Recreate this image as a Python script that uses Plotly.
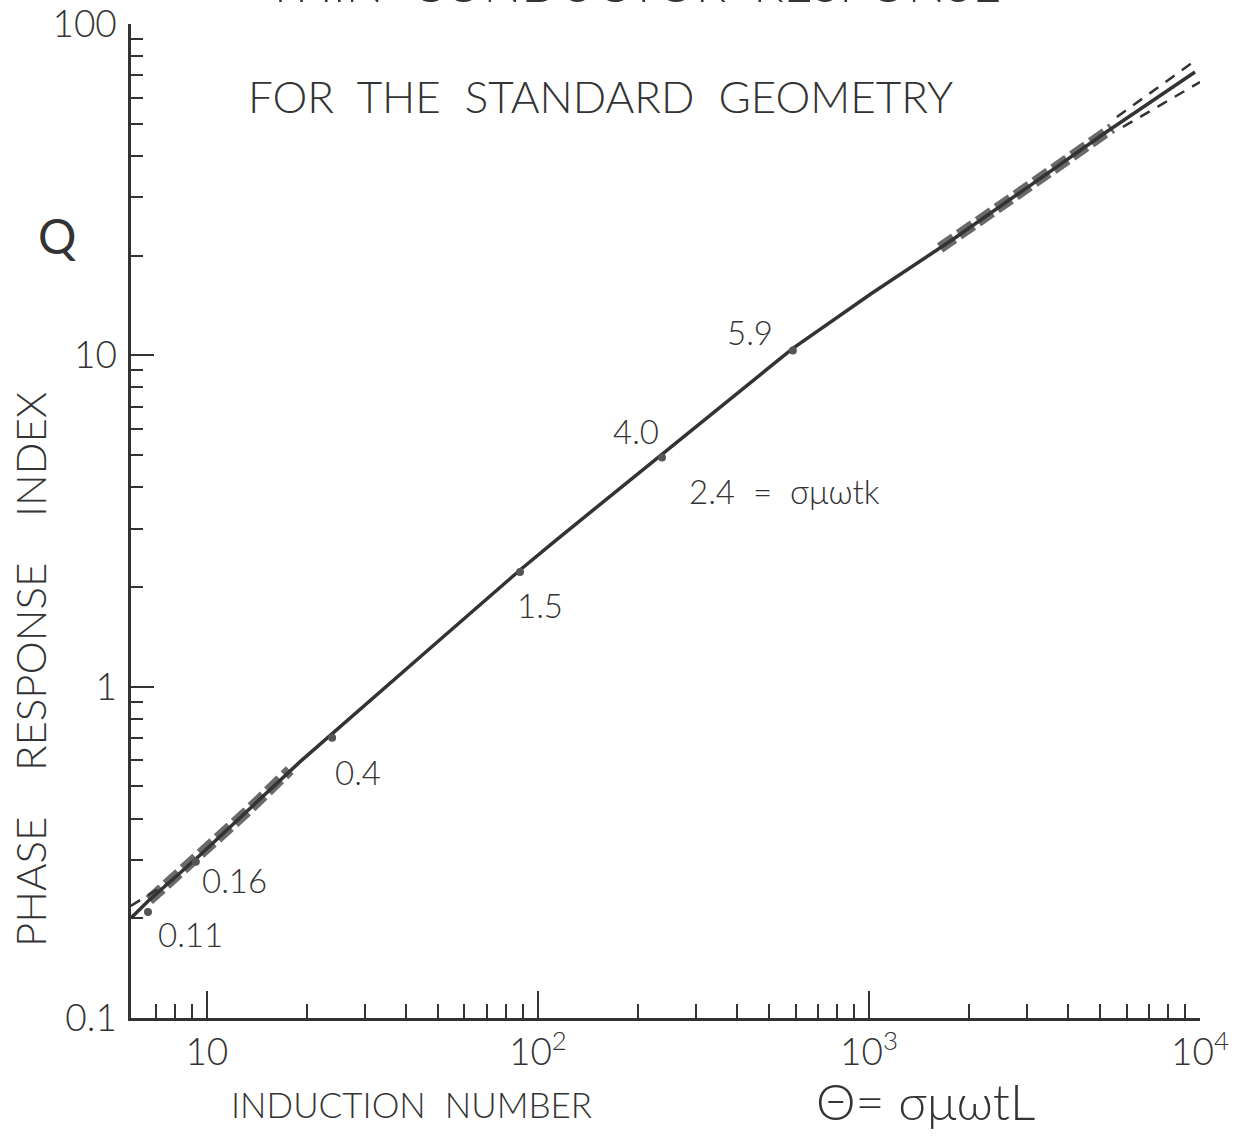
import math
import plotly.graph_objects as go

# ---------------- data ----------------
theta = [5.89, 6.64, 9.33, 13.2, 19.1, 46.6, 88.3, 114, 237, 589, 1020, 1795, 3020, 5160, 9660]
q_index = [0.200, 0.225, 0.304, 0.419, 0.593, 1.29, 2.25, 2.78, 5.02, 10.5, 15.4, 22.4, 32.2, 46.9, 71.6]

band_lo_theta = [6.7, 9.33, 13.2, 17.8]
band_lo_q = [0.227, 0.304, 0.419, 0.560]
band_hi_theta = [1640, 1795, 3020, 5420]
band_hi_q = [21.1, 22.4, 32.2, 48.5]

dash_up_theta = [5610, 9530]
dash_up_q = [52.4, 76.7]
dash_dn_theta = [5850, 10000]
dash_dn_q = [48.9, 66.8]
dash_ll_theta = [5.89, 8.0]
dash_ll_q = [0.218, 0.263]

mark_theta = [6.64, 9.26, 23.9, 88.3, 237, 589]
mark_q = [0.209, 0.296, 0.701, 2.22, 4.92, 10.35]
mark_labels = ["0.11", "0.16", "0.4", "1.5", "4.0", "5.9"]
extra_label = "2.4\u00a0\u00a0=\u00a0\u00a0σμωtk"

x_tickvals = [10, 100, 1000, 10000]
x_ticktext = ["10", "10<sup>2</sup>", "10<sup>3</sup>", "10<sup>4</sup>"]
y_tickvals = [0.1, 1, 10, 100]
y_ticktext = ["0.1", "1", "10", "100"]

# ---------------- styling ----------------
FONT = "Lato"
INK = "#333333"
W, H = 1254, 1136
ML, MR, MT, MB = 131, 54, 24, 118
PW, PH = W - ML - MR, H - MT - MB

def px(xp):
    return (xp - ML) / PW

def py(yp):
    return (H - MB - yp) / PH

# minor tick positions
x_minor = [7, 8, 9]
x_short = []
for k in (1, 2, 3):
    base = 10 ** k
    x_minor += [m * base for m in (2, 3, 4, 5, 6, 7, 8, 9)]
    x_short += [m * base for m in (1.5, 2.5)]
y_minor = []
for k in (-1, 0, 1):
    base = 10 ** k
    y_minor += [m * base for m in (2, 3, 4, 5, 6, 7, 8, 9)]

fig = go.Figure()

# hatched bands (beads)
for bx, by in ((band_lo_theta, band_lo_q), (band_hi_theta, band_hi_q)):
    fig.add_trace(go.Scatter(x=bx, y=by, mode="lines",
                             line=dict(color="#6a6a6a", width=11, dash="17px,6px"),
                             hoverinfo="skip", showlegend=False))

# dashed bounds
for dx, dy in ((dash_up_theta, dash_up_q), (dash_dn_theta, dash_dn_q), (dash_ll_theta, dash_ll_q)):
    fig.add_trace(go.Scatter(x=dx, y=dy, mode="lines",
                             line=dict(color=INK, width=2.5, dash="11px,9px"),
                             hoverinfo="skip", showlegend=False))

# main curve
fig.add_trace(go.Scatter(x=theta, y=q_index, mode="lines",
                         line=dict(color=INK, width=3.5),
                         hoverinfo="skip", showlegend=False))

# small markers
fig.add_trace(go.Scatter(x=mark_theta, y=mark_q, mode="markers",
                         marker=dict(color="#555555", size=8, symbol="circle"),
                         hoverinfo="skip", showlegend=False))

# labels attached to markers (pixel offsets)
offsets = [(43, -22), (39, -18), (26, -34), (20, -33), (-26, 26), (-43, 18)]
lab_font = dict(family=FONT, size=33, color=INK, weight=300)
for xv, yv, txt, (dx, dy) in zip(mark_theta, mark_q, mark_labels, offsets):
    fig.add_annotation(x=math.log10(xv), y=math.log10(yv), xref="x", yref="y",
                       text=txt, showarrow=False, xshift=dx, yshift=dy, font=lab_font)
fig.add_annotation(x=math.log10(mark_theta[4]), y=math.log10(mark_q[4]), xref="x", yref="y",
                   text=extra_label, showarrow=False, xshift=123, yshift=-34, font=lab_font)

# short x ticks (15, 25 ...)
for v in x_short:
    fig.add_shape(type="line", xref="x", yref="paper", x0=math.log10(v), x1=math.log10(v),
                  ysizemode="pixel", yanchor=0, y0=0, y1=8,
                  line=dict(color=INK, width=2))

def label(xp, yp, text, size, weight=300, angle=0, yanchor="middle"):
    fig.add_annotation(x=px(xp), y=py(yp), xref="paper", yref="paper", showarrow=False,
                       xanchor="center", yanchor=yanchor, textangle=angle, text=text,
                       font=dict(family=FONT, size=size, color=INK, weight=weight))

label(600, 96, "FOR\u00a0 THE\u00a0 STANDARD\u00a0 GEOMETRY", 44)
label(633, 15, "THIN\u00a0 CONDUCTOR\u00a0 RESPONSE", 50, yanchor="bottom")
label(30, 670, "PHASE\u00a0\u00a0\u00a0\u00a0RESPONSE\u00a0\u00a0\u00a0\u00a0INDEX", 42, angle=-90)
label(57, 236, "Q", 48, weight=400)
label(411, 1104, "INDUCTION\u00a0\u00a0NUMBER", 35)
label(925, 1101, "Θ=\u00a0σμωtL", 50)

axis_common = dict(type="log", showline=True, linecolor=INK, linewidth=2.5,
                   ticks="inside", tickwidth=2, tickcolor=INK, automargin=False,
                   showgrid=False, zeroline=False, ticklabeloverflow="allow",
                   tickfont=dict(family=FONT, size=37, color=INK, weight=300))

fig.update_layout(
    width=W, height=H,
    margin=dict(l=ML, r=MR, t=MT, b=MB),
    paper_bgcolor="white", plot_bgcolor="white",
    showlegend=False,
    xaxis=dict(axis_common, range=[math.log10(5.9), 4], tickvals=x_tickvals, ticktext=x_ticktext,
               ticklen=27, ticklabelstandoff=0,
               minor=dict(tickvals=x_minor, ticks="inside", ticklen=14, tickwidth=2, tickcolor=INK)),
    yaxis=dict(axis_common, range=[-1, 2], tickvals=y_tickvals, ticktext=y_ticktext,
               ticklen=23, ticklabelstandoff=4,
               minor=dict(tickvals=y_minor, ticks="inside", ticklen=12, tickwidth=2, tickcolor=INK)),
)

fig.write_html("out.html", config={"displayModeBar": False},
               post_script="document.body.style.margin='0px';")
